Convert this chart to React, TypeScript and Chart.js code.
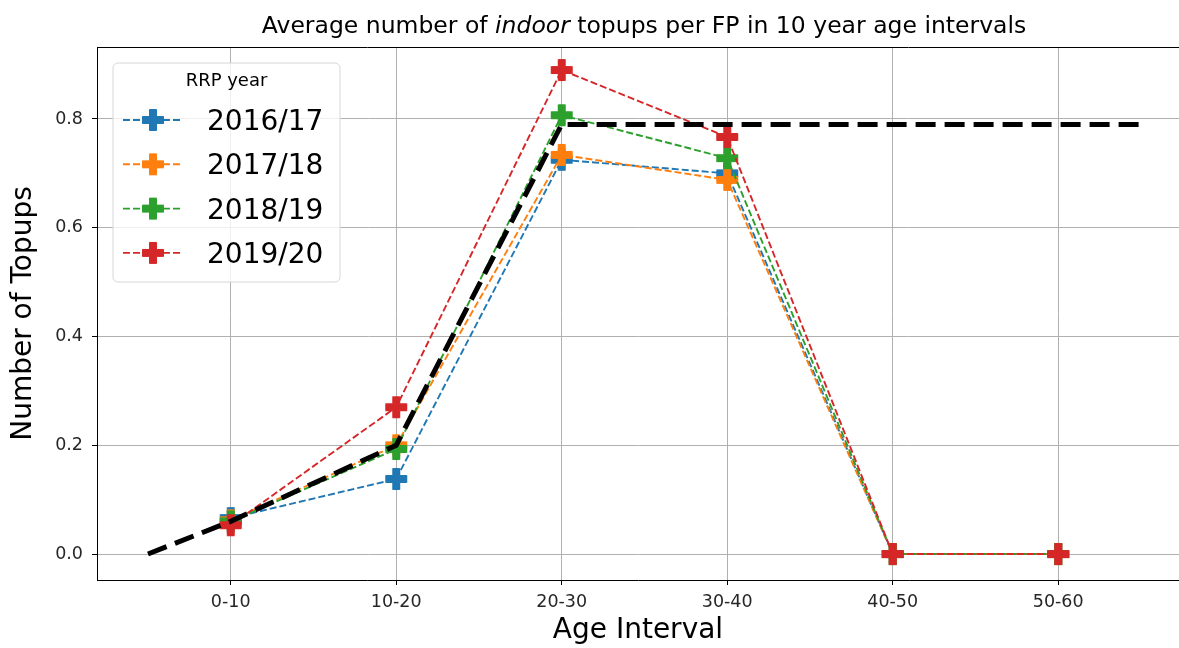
import React, { useEffect, useRef } from 'react';
import { Chart, registerables } from 'chart.js';

Chart.register(...registerables);

// ---- data ----
const categories = ['0-10', '10-20', '20-30', '30-40', '40-50', '50-60'];
const seriesLabels = ['2016/17', '2017/18', '2018/19', '2019/20'];
const values2016 = [0.066, 0.138, 0.725, 0.700, 0, 0];
const values2017 = [0.062, 0.200, 0.734, 0.688, 0, 0];
const values2018 = [0.060, 0.193, 0.807, 0.728, 0, 0];
const values2019 = [0.053, 0.270, 0.890, 0.767, 0, 0];
const trendX = [-0.5, 0, 1, 2, 5.5];
const trendY = [0, 0.06, 0.2, 0.79, 0.79];
const yTickValues = [0, 0.2, 0.4, 0.6, 0.8];

const titleParts = [
  { text: 'Average number of ', italic: false },
  { text: 'indoor', italic: true },
  { text: ' topups per FP in 10 year age intervals', italic: false },
];
const legendTitle = 'RRP year';
const xTitle = 'Age Interval';
const yTitle = 'Number of Topups';

const seriesValues = [values2016, values2017, values2018, values2019];
const colors = ['#1f77b4', '#ff7f0e', '#2ca02c', '#d62728'];
const FONT = '"DejaVu Sans", "Liberation Sans", sans-serif';

function makePlus(color: string): HTMLCanvasElement {
  const c = document.createElement('canvas');
  c.width = 24;
  c.height = 24;
  const g = c.getContext('2d')!;
  const pts = [
    [-1, -3], [1, -3], [1, -1], [3, -1], [3, 1], [1, 1],
    [1, 3], [-1, 3], [-1, 1], [-3, 1], [-3, -1], [-1, -1],
  ];
  const u = 3.5;
  g.beginPath();
  pts.forEach(([x, y], i) => {
    const px = 12 + x * u;
    const py = 12 + y * u;
    if (i === 0) g.moveTo(px, py);
    else g.lineTo(px, py);
  });
  g.closePath();
  g.fillStyle = color;
  g.fill();
  g.lineWidth = 1;
  g.strokeStyle = color;
  g.stroke();
  return c;
}

export default function App() {
  const ref = useRef<HTMLCanvasElement | null>(null);

  useEffect(() => {
    const canvas = ref.current;
    if (!canvas) return;
    const markers = colors.map((c) => makePlus(c));

    const framePlugin = {
      id: 'frame',
      afterDraw(chart: any) {
        const { ctx, chartArea } = chart;
        ctx.save();
        ctx.strokeStyle = '#000';
        ctx.lineWidth = 1;
        ctx.beginPath();
        ctx.moveTo(chartArea.left, Math.round(chartArea.top) + 0.5);
        ctx.lineTo(chartArea.right, Math.round(chartArea.top) + 0.5);
        ctx.stroke();
        ctx.restore();
      },
    };

    const titlePlugin = {
      id: 'mixedTitle',
      afterDraw(chart: any) {
        const { ctx } = chart;
        ctx.save();
        ctx.fillStyle = '#000';
        ctx.textBaseline = 'alphabetic';
        const size = 23.5;
        const widths = titleParts.map((p) => {
          ctx.font = `${p.italic ? 'italic ' : ''}${size}px ${FONT}`;
          return ctx.measureText(p.text).width;
        });
        const total = widths.reduce((a, b) => a + b, 0);
        let x = 644 - total / 2;
        titleParts.forEach((p, i) => {
          ctx.font = `${p.italic ? 'italic ' : ''}${size}px ${FONT}`;
          ctx.fillText(p.text, x, 33);
          x += widths[i];
        });
        ctx.restore();
      },
    };

    const legendPlugin = {
      id: 'boxLegend',
      afterDraw(chart: any) {
        const { ctx } = chart;
        const left = 113, top = 63, right = 340, bottom = 282, r = 5;
        ctx.save();
        ctx.beginPath();
        ctx.moveTo(left + r, top);
        ctx.arcTo(right, top, right, bottom, r);
        ctx.arcTo(right, bottom, left, bottom, r);
        ctx.arcTo(left, bottom, left, top, r);
        ctx.arcTo(left, top, right, top, r);
        ctx.closePath();
        ctx.fillStyle = 'rgba(255,255,255,0.8)';
        ctx.fill();
        ctx.strokeStyle = '#d6d6d6';
        ctx.lineWidth = 1;
        ctx.stroke();

        ctx.fillStyle = '#000';
        ctx.font = `18px ${FONT}`;
        ctx.textAlign = 'center';
        ctx.textBaseline = 'alphabetic';
        ctx.fillText(legendTitle, (left + right) / 2, 86);

        const ds = chart.data.datasets.filter((d: any) => d.label);
        ds.forEach((d: any, i: number) => {
          const cy = 120 + i * 44.3;
          ctx.strokeStyle = d.borderColor;
          ctx.lineWidth = d.borderWidth;
          ctx.setLineDash(d.borderDash || []);
          ctx.beginPath();
          ctx.moveTo(123, cy);
          ctx.lineTo(183, cy);
          ctx.stroke();
          ctx.setLineDash([]);
          const m = d.pointStyle as HTMLCanvasElement;
          ctx.drawImage(m, 153 - m.width / 2, cy - m.height / 2);
          ctx.fillStyle = '#000';
          ctx.font = `28px ${FONT}`;
          ctx.textAlign = 'left';
          ctx.fillText(d.label, 207, cy + 10);
        });
        ctx.restore();
      },
    };

    const tickFont = { family: FONT, size: 17.5 };
    const titleFont = { family: FONT, size: 28 };

    const chart = new Chart(canvas, {
      type: 'line',
      data: {
        datasets: [
          ...seriesValues.map((vals, i) => ({
            label: seriesLabels[i],
            data: vals.map((y, j) => ({ x: j, y })),
            borderColor: colors[i],
            backgroundColor: colors[i],
            borderWidth: 1.9,
            borderDash: [7, 3],
            pointStyle: markers[i],
            pointRadius: 10,
            tension: 0,
            fill: false,
            order: 4 - i,
          })),
          {
            label: '',
            data: trendX.map((x, i) => ({ x, y: trendY[i] })),
            borderColor: '#000',
            backgroundColor: '#000',
            borderWidth: 5,
            borderDash: [20, 9],
            borderCapStyle: 'butt',
            pointRadius: 0,
            tension: 0,
            fill: false,
            order: 0,
          },
        ],
      } as any,
      options: {
        animation: false,
        responsive: false,
        events: [],
        layout: { autoPadding: false, padding: { top: 47, left: 0, right: 0, bottom: 0 } },
        plugins: {
          legend: { display: false },
          tooltip: { enabled: false },
          title: { display: false },
        },
        scales: {
          x: {
            type: 'linear',
            min: -0.808,
            max: 5.73,
            afterBuildTicks: (s: any) => {
              s.ticks = categories.map((_, i) => ({ value: i }));
            },
            afterFit: (s: any) => {
              s.height = 68;
              s.paddingLeft = 0;
              s.paddingRight = 0;
            },
            ticks: {
              callback: (v: any) => categories[v] ?? '',
              font: tickFont,
              color: '#262626',
              padding: 7,
              maxRotation: 0,
              autoSkip: false,
            },
            grid: { color: '#b0b0b0', lineWidth: 1, tickColor: '#000', tickLength: 5, tickWidth: 1 },
            border: { color: '#000', width: 1 },
            title: { display: true, text: xTitle, font: titleFont, color: '#000', padding: { top: 0, bottom: 0 } },
          },
          y: {
            type: 'linear',
            min: -0.0478,
            max: 0.9324,
            afterBuildTicks: (s: any) => {
              s.ticks = yTickValues.map((v) => ({ value: v }));
            },
            afterFit: (s: any) => {
              s.width = 97;
              s.paddingTop = 0;
              s.paddingBottom = 0;
            },
            ticks: {
              callback: (v: any) => Number(v).toFixed(1),
              font: tickFont,
              color: '#262626',
              padding: 9,
            },
            grid: { color: '#b0b0b0', lineWidth: 1, tickColor: '#000', tickLength: 5, tickWidth: 1 },
            border: { color: '#000', width: 1 },
            title: { display: true, text: yTitle, font: titleFont, color: '#000', padding: { top: 7, bottom: 0 } },
          },
        },
      } as any,
      plugins: [framePlugin, titlePlugin, legendPlugin],
    });

    return () => chart.destroy();
  }, []);

  return (
    <div style={{ position: 'fixed', left: 0, top: 0, width: 1179, height: 648, overflow: 'hidden', background: '#fff' }}>
      <canvas ref={ref} width={1179} height={648} style={{ display: 'block', width: 1179, height: 648 }} />
    </div>
  );
}
